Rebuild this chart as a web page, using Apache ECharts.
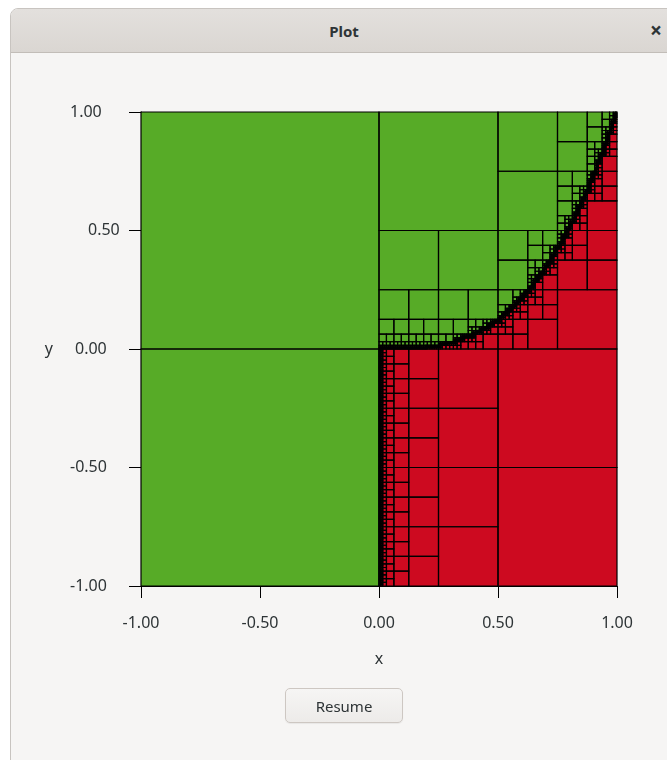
<!DOCTYPE html>
<html>
<head>
<meta charset="utf-8">
<script src="https://cdn.jsdelivr.net/npm/echarts@6/dist/echarts.min.js"></script>
<style>
  html, body { margin: 0; padding: 0; width: 667px; height: 760px; overflow: hidden; background: #ffffff; font-family: "Noto Sans", "DejaVu Sans", sans-serif; }
  #win { position: absolute; left: 10px; top: 8px; width: 680px; height: 800px; background: #f6f5f4; border: 1px solid #c8c4c0; border-top-left-radius: 8px; box-sizing: border-box; overflow: hidden; }
  #titlebar { position: absolute; left: 0; top: 0; width: 100%; height: 44px; background: linear-gradient(#e3e0dd, #dad6d2); border-bottom: 1px solid #c2bdb8; box-sizing: border-box; }
  #title { position: absolute; left: 333px; top: 22px; transform: translate(-50%, -50%); font-weight: bold; font-size: 15px; color: #2e3436; }
  #close { position: absolute; left: 645px; top: 21px; transform: translate(-50%, -50%); font-weight: bold; font-size: 21px; color: #2e3436; }
  #chart { position: absolute; left: 0; top: 0; width: 667px; height: 760px; z-index: 1; }
  #resume { position: absolute; left: 285px; top: 688px; width: 118px; height: 35px; z-index: 2; border: 1px solid #cdc7c2; border-radius: 5px; background: linear-gradient(#f6f5f4, #edebe9); font-family: "Noto Sans", sans-serif; font-size: 15px; color: #2e3436; padding: 0; box-shadow: 0 1px 1px rgba(0,0,0,0.06); }
</style>
</head>
<body>
<div id="win"><div id="titlebar"><span id="title">Plot</span><span id="close">×</span></div></div>
<div id="chart"></div>
<button id="resume">Resume</button>
<script>
// ---- data ----
const xTicks = [-1.0, -0.5, 0.0, 0.5, 1.0];
const yTicks = [-1.0, -0.5, 0.0, 0.5, 1.0];
const xName = 'x';
const yName = 'y';
// boundary between the two regions (right half)
const boundaryX = [0.00, 0.05, 0.10, 0.15, 0.20, 0.25, 0.30, 0.35, 0.40, 0.45, 0.50, 0.55, 0.60, 0.65, 0.70, 0.75, 0.80, 0.85, 0.90, 0.95, 1.00];
const boundaryY = [0.0000, 0.0001, 0.001, 0.0034, 0.008, 0.0156, 0.027, 0.043, 0.064, 0.091, 0.125, 0.166, 0.216, 0.275, 0.343, 0.422, 0.512, 0.614, 0.729, 0.857, 1.000];
const maxDepth = 9;               // deepest subdivision level seen
const regionColors = ['#cd0a20', '#57ab27']; // 0: inside (red), 1: outside (green)

function boundaryAt(x) {
  for (let i = 1; i < boundaryX.length; i++) {
    if (x <= boundaryX[i]) {
      const t = (x - boundaryX[i - 1]) / (boundaryX[i] - boundaryX[i - 1]);
      return boundaryY[i - 1] + t * (boundaryY[i] - boundaryY[i - 1]);
    }
  }
  return boundaryY[boundaryY.length - 1];
}
function inside(x, y) { return x > 0 && y < boundaryAt(x); }

// quadtree subdivision of the plotted domain
const cells = [];
(function rec(x0, y0, x1, y1, d) {
  const c = [inside(x0, y0), inside(x1, y0), inside(x0, y1), inside(x1, y1)];
  const same = c.every(v => v === c[0]);
  if (same || d >= maxDepth) {
    const v = same ? c[0] : inside((x0 + x1) / 2, (y0 + y1) / 2);
    cells.push([x0, y0, x1, y1, v ? 0 : 1]);
    return;
  }
  const xm = (x0 + x1) / 2, ym = (y0 + y1) / 2;
  rec(x0, y0, xm, ym, d + 1);
  rec(xm, y0, x1, ym, d + 1);
  rec(x0, ym, xm, y1, d + 1);
  rec(xm, ym, x1, y1, d + 1);
})(xTicks[0], yTicks[0], xTicks[xTicks.length - 1], yTicks[yTicks.length - 1], 0);

function corners(api) {
  const p0 = api.coord([api.value(0), api.value(1)]);
  const p1 = api.coord([api.value(2), api.value(3)]);
  return { x0: Math.min(p0[0], p1[0]), x1: Math.max(p0[0], p1[0]), y0: Math.min(p0[1], p1[1]), y1: Math.max(p0[1], p1[1]) };
}

const chart = echarts.init(document.getElementById('chart'), null, { renderer: 'canvas' });
const labelColor = '#2e3436';
chart.setOption({
  animation: false,
  backgroundColor: 'transparent',
  grid: { left: 141, top: 112, width: 476, height: 474, containLabel: false },
  xAxis: {
    type: 'value', min: xTicks[0], max: xTicks[xTicks.length - 1], interval: 0.5,
    name: xName, nameLocation: 'middle', nameGap: 65,
    nameTextStyle: { color: labelColor, fontSize: 16, fontFamily: 'Noto Sans' },
    axisLine: { show: true, onZero: false, lineStyle: { color: '#000', width: 1 } },
    axisTick: { show: true, length: 12, inside: false, lineStyle: { color: '#000', width: 1 } },
    axisLabel: { margin: 29, color: labelColor, fontSize: 16, fontFamily: 'Noto Sans', formatter: v => v.toFixed(2) },
    splitLine: { show: false }
  },
  yAxis: {
    type: 'value', min: yTicks[0], max: yTicks[yTicks.length - 1], interval: 0.5,
    name: yName, nameLocation: 'middle', nameGap: 88, nameRotate: 0,
    nameTextStyle: { color: labelColor, fontSize: 16, fontFamily: 'Noto Sans' },
    axisLine: { show: true, onZero: false, lineStyle: { color: '#000', width: 1 } },
    axisTick: { show: true, length: 12, inside: false, lineStyle: { color: '#000', width: 1 } },
    axisLabel: {
      margin: 71, align: 'left', color: labelColor, fontSize: 16, fontFamily: 'Noto Sans',
      formatter: v => {
        const s = v.toFixed(2);
        if (Math.abs(v - 0.5) < 1e-9) return '{b|' + s + '}';
        if (Math.abs(v) < 1e-9) return '{c|' + s + '}';
        return '{a|' + s + '}';
      },
      rich: {
        a: { color: labelColor, fontSize: 16, fontFamily: 'Noto Sans' },
        b: { color: labelColor, fontSize: 16, fontFamily: 'Noto Sans', padding: [0, 0, 0, 18] },
        c: { color: labelColor, fontSize: 16, fontFamily: 'Noto Sans', padding: [0, 0, 0, 5] }
      }
    },
    splitLine: { show: false }
  },
  series: [
    {
      type: 'custom', clip: false, progressive: 0, z: 1,
      encode: { x: [0, 2], y: [1, 3] },
      data: cells,
      renderItem: (params, api) => {
        const b = corners(api);
        return { type: 'rect', shape: { x: b.x0, y: b.y0, width: b.x1 - b.x0, height: b.y1 - b.y0 },
                 style: { fill: regionColors[api.value(4)] } };
      }
    },
    {
      type: 'custom', clip: false, progressive: 0, z: 2, silent: true,
      encode: { x: [0, 2], y: [1, 3] },
      data: cells,
      renderItem: (params, api) => {
        const b = corners(api);
        return { type: 'rect', shape: { x: b.x0, y: b.y0, width: b.x1 - b.x0, height: b.y1 - b.y0 },
                 style: { fill: 'none', stroke: '#000', lineWidth: 1.2 } };
      }
    }
  ]
});
</script>
</body>
</html>
